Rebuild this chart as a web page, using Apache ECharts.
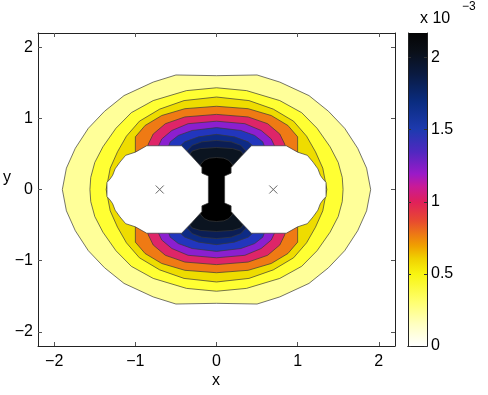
<!DOCTYPE html>
<html>
<head>
<meta charset="utf-8">
<script src="https://cdn.jsdelivr.net/npm/echarts@6/dist/echarts.min.js"></script>
<style>
  html, body { margin: 0; padding: 0; background: #fff; }
  #chart { width: 488px; height: 395px; }
</style>
</head>
<body>
<div id="chart"></div>
<script>
// contour levels (units of 1e-3) and the colour of the band just above each level
const levels = [0.2, 0.4, 0.6, 0.8, 1.0, 1.2, 1.4, 1.6, 1.8, 2.0, 2.1];
const bandColors = ['#ffff99', '#ffff33', '#eedc00', '#ef7a14', '#de2568', '#8b1fcf',
                    '#2236bd', '#0d2b86', '#0b1e55', '#0b1420', '#000000'];

// one quadrant (x >= 0, y >= 0) of each contour, top -> right
const c1 = [[0, 1.60], [0.50, 1.61], [0.78, 1.51], [1.14, 1.32], [1.38, 1.10], [1.58, 0.86], [1.74, 0.58], [1.85, 0.30], [1.90, 0]];
const c2 = [[0, 1.43], [0.37, 1.39], [0.78, 1.25], [1.05, 1.08], [1.24, 0.86], [1.40, 0.60], [1.50, 0.38], [1.55, 0.17], [1.56, 0]];
const c3 = [[0, 1.30], [0.40, 1.25], [0.70, 1.13], [0.95, 0.96], [1.11, 0.75], [1.22, 0.53], [1.31, 0.30], [1.36, 0]];
const c4 = [[0, 1.17], [0.39, 1.136], [0.675, 1.04], [0.88, 0.90], [1.00, 0.74], [1.00, 0.45], [1.00, 0]];
const c5 = [[0, 1.056], [0.39, 1.02], [0.63, 0.925], [0.78, 0.78], [0.84, 0.64], [0.87, 0.5], [0.87, 0]];
const c6 = [[0, 0.96], [0.35, 0.925], [0.55, 0.83], [0.675, 0.71], [0.72, 0.6], [0.72, 0]];
const c7 = [[0, 0.87], [0.30, 0.83], [0.47, 0.76], [0.57, 0.67], [0.60, 0.58], [0.60, 0]];
const c8 = [[0, 0.775], [0.22, 0.74], [0.39, 0.67], [0.48, 0.58], [0.48, 0]];
const c9 = [[0, 0.69], [0.18, 0.67], [0.30, 0.62], [0.38, 0.52], [0.40, 0.3], [0.40, 0]];
const c10 = [[0, 0.59], [0.20, 0.575], [0.30, 0.54], [0.36, 0.45], [0.36, 0]];
const c11 = [[0, 0.45], [0.09, 0.44], [0.15, 0.41], [0.19, 0.36], [0.22, 0.30], [0.22, 0]];
const contours = [c1, c2, c3, c4, c5, c6, c7, c8, c9, c10, c11];

// masked region round the charge at x = +0.7, upper half, inner side -> outer side
const holeRight = [[0.10, 0], [0.10, 0.19], [0.18, 0.23], [0.18, 0.31], [0.30, 0.46], [0.43, 0.615],
                   [0.86, 0.615], [1.00, 0.525], [1.12, 0.48], [1.19, 0.385], [1.25, 0.29],
                   [1.28, 0.20], [1.31, 0.15], [1.35, 0.10], [1.35, 0]];
const charges = [[-0.7, 0], [0.7, 0]];

const xTicks = [-2, -1, 0, 1, 2];
const yTicks = [-2, -1, 0, 1, 2];
const cbTicks = [0, 0.5, 1, 1.5, 2];
const cbMax = 2.17;
const cbStops = [
  [0, '#ffffff'], [0.07, '#ffffc0'], [0.14, '#ffff70'], [0.23, '#f8f510'], [0.28, '#f0d000'],
  [0.32, '#f0a000'], [0.35, '#ee8010'], [0.40, '#e84a30'], [0.46, '#e0205a'], [0.51, '#c81a98'],
  [0.55, '#9a1ac8'], [0.62, '#5028c0'], [0.69, '#1e3ab0'], [0.78, '#0a2c80'], [0.87, '#0a1a40'],
  [0.94, '#0a0f18'], [1, '#050505']
];

const FONT = 'Liberation Sans, Arial, Helvetica, sans-serif';
const LINE = '#3a3a3a';
const minus = v => (v < 0 ? '\u2212' + Math.abs(v) : String(v));

function fullRing(q) {
  const r = [];
  q.forEach(p => r.push([p[0], p[1]]));
  q.slice().reverse().forEach(p => r.push([p[0], -p[1]]));
  q.forEach(p => r.push([-p[0], -p[1]]));
  q.slice().reverse().forEach(p => r.push([-p[0], p[1]]));
  return r;
}
function holeRing(h, sx) {
  const r = h.map(p => [sx * p[0], p[1]]);
  h.slice().reverse().forEach(p => r.push([sx * p[0], -p[1]]));
  return r;
}

const boxAxis = (pos, extra) => Object.assign({
  type: 'value', min: -2.2, max: 2.2, position: pos,
  axisLine: { show: true, onZero: false, lineStyle: { color: '#222', width: 1 } },
  axisTick: { show: true, inside: true, length: 4, customValues: xTicks, lineStyle: { color: '#555' } },
  axisLabel: { show: false },
  splitLine: { show: false }
}, extra);

const chart = echarts.init(document.getElementById('chart'));
chart.setOption({
  animation: false,
  backgroundColor: '#fff',
  grid: [
    { left: 38, right: 93, top: 33, bottom: 49 },
    { left: 408, width: 19, top: 33, bottom: 49 }
  ],
  xAxis: [
    boxAxis('bottom', {
      gridIndex: 0,
      axisLabel: { show: true, customValues: xTicks, formatter: minus, color: '#000', fontSize: 16, fontFamily: FONT, margin: 8 }
    }),
    boxAxis('top', { gridIndex: 0 }),
    { type: 'category', gridIndex: 1, data: [''], position: 'bottom', z: 10,
      axisLine: { show: true, lineStyle: { color: '#222' } }, axisTick: { show: false }, axisLabel: { show: false } },
    { type: 'category', gridIndex: 1, data: [''], position: 'top', z: 10,
      axisLine: { show: true, lineStyle: { color: '#222' } }, axisTick: { show: false }, axisLabel: { show: false } }
  ],
  yAxis: [
    boxAxis('left', {
      gridIndex: 0,
      axisTick: { show: true, inside: true, length: 4, customValues: yTicks, lineStyle: { color: '#555' } },
      axisLabel: { show: true, customValues: yTicks, formatter: minus, color: '#000', fontSize: 16, fontFamily: FONT, margin: 5 }
    }),
    boxAxis('right', {
      gridIndex: 0,
      axisTick: { show: true, inside: true, length: 4, customValues: yTicks, lineStyle: { color: '#555' } }
    }),
    { type: 'value', gridIndex: 1, min: 0, max: cbMax, position: 'right', z: 10,
      axisLine: { show: true, onZero: false, lineStyle: { color: '#222' } },
      axisTick: { show: true, inside: true, length: 3, customValues: cbTicks, lineStyle: { color: '#333' } },
      axisLabel: { show: true, customValues: cbTicks, color: '#000', fontSize: 16, fontFamily: FONT, margin: 4 },
      splitLine: { show: false } },
    { type: 'value', gridIndex: 1, min: 0, max: cbMax, position: 'left', z: 10,
      axisLine: { show: true, onZero: false, lineStyle: { color: '#222' } },
      axisTick: { show: true, inside: true, length: 3, customValues: cbTicks, lineStyle: { color: '#333' } },
      axisLabel: { show: false }, splitLine: { show: false } }
  ],
  series: [
    {
      type: 'custom',
      xAxisIndex: 0, yAxisIndex: 0,
      data: levels.map((v, i) => [i, v]),
      encode: { x: -1, y: -1 },
      renderItem(params, api) {
        const i = params.dataIndex;
        const pts = fullRing(contours[i]).map(p => api.coord(p));
        return {
          type: 'polygon', z2: i,
          shape: { points: pts },
          style: { fill: bandColors[i], stroke: LINE, lineWidth: 0.7 }
        };
      }
    },
    {
      type: 'custom',
      xAxisIndex: 0, yAxisIndex: 0, z: 3,
      data: [[1], [-1]],
      encode: { x: -1, y: -1 },
      renderItem(params, api) {
        const sx = params.dataIndex === 0 ? 1 : -1;
        const pts = holeRing(holeRight, sx).map(p => api.coord(p));
        return {
          type: 'polygon',
          shape: { points: pts },
          style: { fill: '#ffffff', stroke: LINE, lineWidth: 0.7 }
        };
      }
    },
    {
      type: 'custom',
      xAxisIndex: 0, yAxisIndex: 0, z: 4,
      data: charges,
      renderItem(params, api) {
        const c = api.coord([api.value(0), api.value(1)]);
        const s = 4;
        const st = { stroke: '#666', lineWidth: 1 };
        return {
          type: 'group',
          children: [
            { type: 'line', shape: { x1: c[0] - s, y1: c[1] - s, x2: c[0] + s, y2: c[1] + s }, style: st },
            { type: 'line', shape: { x1: c[0] - s, y1: c[1] + s, x2: c[0] + s, y2: c[1] - s }, style: st }
          ]
        };
      }
    },
    {
      type: 'bar',
      xAxisIndex: 2, yAxisIndex: 2,
      barWidth: '100%',
      data: [cbMax],
      itemStyle: { color: new echarts.graphic.LinearGradient(0, 1, 0, 0, cbStops.map(s => ({ offset: s[0], color: s[1] }))) }
    }
  ],
  graphic: [
    { type: 'text', left: 212, top: 373, style: { text: 'x', font: '16px ' + FONT, fill: '#000' } },
    { type: 'text', left: 3, top: 170, style: { text: 'y', font: '16px ' + FONT, fill: '#000' } },
    { type: 'text', left: 420, top: 11, style: { text: 'x 10', font: '16px ' + FONT, fill: '#000' } },
    { type: 'text', left: 462, top: 1, style: { text: '\u22123', font: '12px ' + FONT, fill: '#000' } }
  ]
});
</script>
</body>
</html>
